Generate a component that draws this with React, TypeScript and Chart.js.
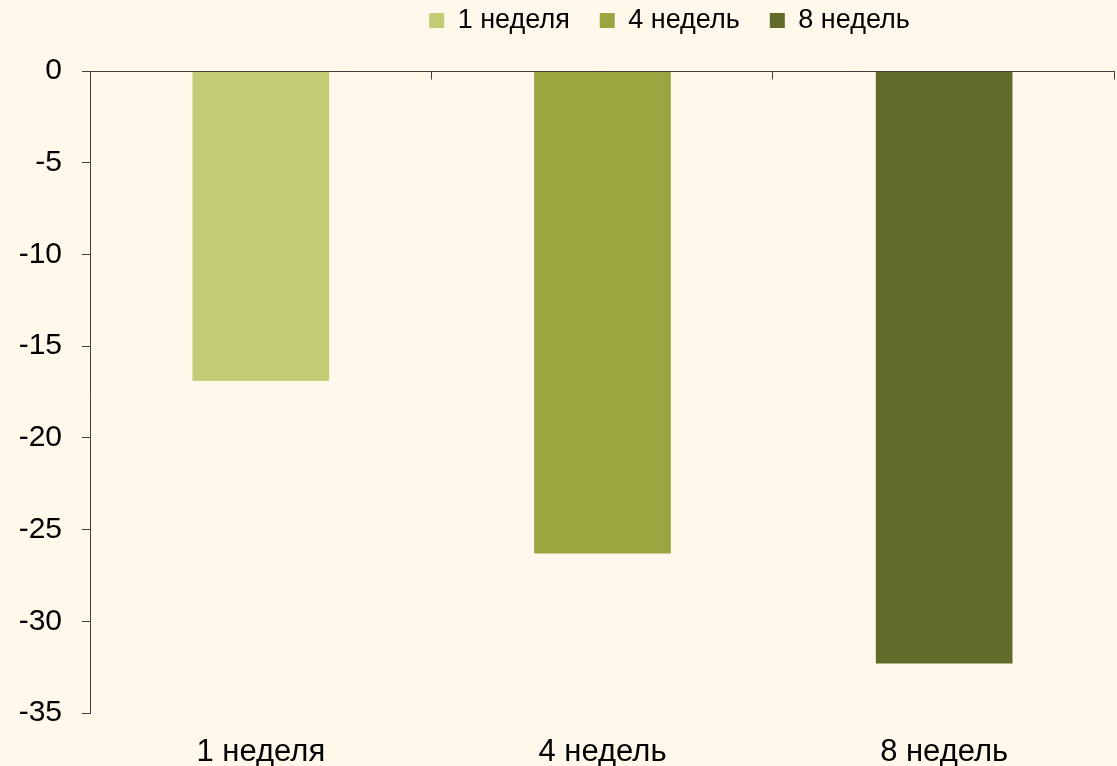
import React, { useEffect, useRef } from 'react';
import { Chart, registerables } from 'chart.js';

Chart.register(...registerables);

const categories = ['1 неделя', '4 недель', '8 недель'];
const values = [-16.9, -26.3, -32.3];
const barColors = ['#C2CD76', '#99A640', '#636B2A'];
const yMin = -35;
const yMax = 0;
const yStep = 5;

const BG = '#FFF8EB';
const AXIS = '#404040';
const FONT = '"Liberation Sans", Arial, sans-serif';
const LEGEND_PAD = 30;

export default function App() {
  const ref = useRef<HTMLCanvasElement>(null);

  useEffect(() => {
    if (!ref.current) return;

    const topAxis = {
      id: 'topAxis',
      afterDatasetsDraw(chart: any) {
        const { ctx, chartArea, scales } = chart;
        const y0 = Math.round(scales.y.getPixelForValue(0)) + 0.5;
        ctx.save();
        ctx.strokeStyle = AXIS;
        ctx.lineWidth = 1;
        ctx.beginPath();
        ctx.moveTo(chartArea.left, y0);
        ctx.lineTo(chartArea.right, y0);
        for (let i = 1; i <= categories.length; i++) {
          const x = Math.round(scales.x.getPixelForValue(i - 0.5)) - 0.5;
          ctx.moveTo(x, y0);
          ctx.lineTo(x, y0 + 8);
        }
        ctx.stroke();
        ctx.restore();
      },
    };

    const legendPlace = {
      id: 'legendPlace',
      beforeInit(chart: any) {
        const orig = chart.legend.fit;
        chart.legend.fit = function () {
          orig.bind(chart.legend)();
          this.height = 71;
        };
      },
      afterLayout(chart: any) {
        const lg = chart.legend;
        const dy = -(LEGEND_PAD - 7);
        const dx = 112;
        lg.top += dy;
        lg.bottom += dy;
        lg.left += dx;
        lg.right += dx;
        if (lg.legendHitBoxes) {
          lg.legendHitBoxes.forEach((h: any) => {
            h.left += dx;
            h.top += dy;
          });
        }
      },
    };

    const chart = new Chart(ref.current, {
      type: 'bar',
      data: {
        labels: categories,
        datasets: categories.map((c, i) => ({
          label: c,
          data: values.map((v, j) => (j === i ? v : null)),
          backgroundColor: barColors[i],
          borderWidth: 0,
          barPercentage: 0.4,
          categoryPercentage: 1,
          skipNull: true,
        })),
      },
      options: {
        animation: false,
        responsive: true,
        maintainAspectRatio: false,
        layout: { padding: { left: 0, right: 2, top: 0, bottom: 0 } },
        plugins: {
          legend: {
            position: 'top',
            labels: {
              boxWidth: 15,
              boxHeight: 15,
              padding: LEGEND_PAD,
              color: '#000',
              font: { family: FONT, size: 27 },
            },
          },
          tooltip: { enabled: false },
        },
        scales: {
          x: {
            offset: true,
            grid: { display: false, drawTicks: false },
            border: { display: false },
            ticks: {
              color: '#000',
              padding: 21,
              font: { family: FONT, size: 31 },
            },
            afterFit(scale: any) {
              scale.height = 53;
            },
          },
          y: {
            min: yMin,
            max: yMax,
            ticks: {
              stepSize: yStep,
              color: '#000',
              padding: 20,
              font: { family: FONT, size: 30 },
            },
            grid: {
              drawOnChartArea: false,
              drawTicks: true,
              tickLength: 8,
              color: AXIS,
              tickColor: AXIS,
            },
            border: { display: true, color: AXIS, width: 1 },
            afterFit(scale: any) {
              scale.width = 90;
            },
          },
        },
      },
      plugins: [topAxis, legendPlace],
    });

    return () => chart.destroy();
  }, []);

  return (
    <div
      style={{
        position: 'fixed',
        left: 0,
        top: 0,
        width: 1117,
        height: 766,
        background: BG,
      }}
    >
      <canvas ref={ref} />
    </div>
  );
}
